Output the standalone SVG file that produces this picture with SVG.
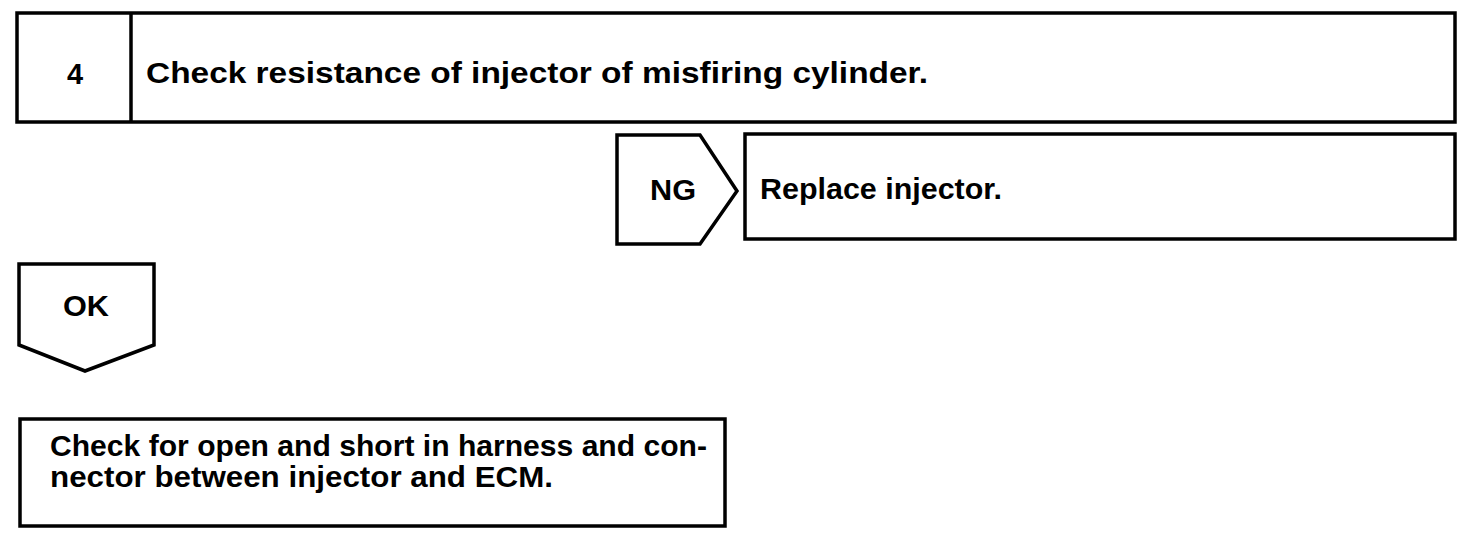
<svg xmlns="http://www.w3.org/2000/svg" width="1472" height="544" viewBox="0 0 1472 544">
<style>
.b{fill:#fff;stroke:#000;stroke-width:3.5;stroke-linejoin:miter}
.t{font-family:"Liberation Sans",Arial,sans-serif;font-weight:bold;font-size:29px;fill:#000}
</style>
<rect width="1472" height="544" fill="#fff"/>
<g id="step4">
<rect class="b" x="17" y="13" width="1438" height="109"/>
<line x1="131" y1="13" x2="131" y2="122" stroke="#000" stroke-width="3.5"/>
<text class="t" x="75" y="84" text-anchor="middle">4</text>
<text class="t" x="146" y="83" textLength="782" lengthAdjust="spacingAndGlyphs">Check resistance of injector of misfiring cylinder.</text>
</g>
<g id="connectors">
<g id="ng">
<polygon class="b" points="617,135 700,135 737,191 700,244 617,244"/>
<text class="t" x="673" y="200" text-anchor="middle" textLength="46" lengthAdjust="spacingAndGlyphs">NG</text>
</g>
<g id="ok">
<polygon class="b" points="19,264 154,264 154,345 85,371 19,345"/>
<text class="t" x="86" y="316" text-anchor="middle" textLength="46" lengthAdjust="spacingAndGlyphs">OK</text>
</g>
</g>
<g id="replace">
<rect class="b" x="745" y="134" width="710" height="105"/>
<text class="t" x="760" y="199" textLength="242" lengthAdjust="spacingAndGlyphs">Replace injector.</text>
</g>
<g id="check">
<rect class="b" x="20" y="419" width="705" height="107"/>
<text class="t" x="50" y="456" textLength="657" lengthAdjust="spacingAndGlyphs">Check for open and short in harness and con-</text>
<text class="t" x="50" y="487" textLength="503" lengthAdjust="spacingAndGlyphs">nector between injector and ECM.</text>
</g>
</svg>
